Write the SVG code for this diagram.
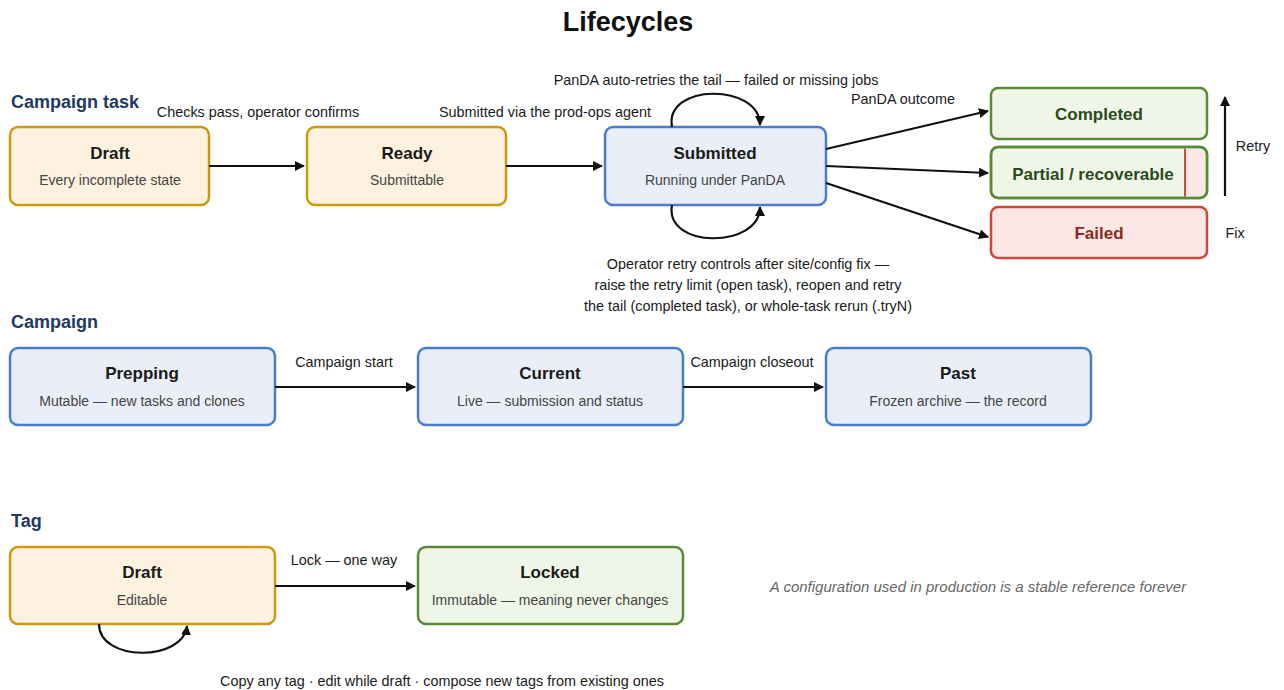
<svg xmlns="http://www.w3.org/2000/svg" width="1284" height="690" viewBox="0 0 1284 690">
  <defs>
    <marker id="arrow" viewBox="0 0 10 10" refX="9" refY="5" markerWidth="10" markerHeight="10" markerUnits="userSpaceOnUse" orient="auto">
      <path d="M0,0 L10,5 L0,10 z" fill="#111"/>
    </marker>
    <style>
      text { font-family: "Liberation Sans", Arial, Helvetica, sans-serif; }
      .title { font-size: 27px; font-weight: bold; fill: #111; text-anchor: middle; }
      .section { font-size: 18px; font-weight: bold; fill: #1d3a63; }
      .box { stroke-width: 2.5; }
      .amber { fill: #fdf1df; stroke: #cc9a0e; }
      .blue { fill: #e9eef9; stroke: #4a7cd0; }
      .green { fill: #eff6e8; stroke: #5a8a38; }
      .red { fill: #fbe7e5; stroke: #d0483a; }
      .name { font-size: 17px; font-weight: bold; fill: #1a1a1a; text-anchor: middle; }
      .sub { font-size: 14px; fill: #444; text-anchor: middle; }
      .gname { font-size: 17px; font-weight: bold; fill: #2b4a1c; text-anchor: middle; }
      .rname { font-size: 17px; font-weight: bold; fill: #8c2a1f; text-anchor: middle; }
      .edge { fill: none; stroke: #111; stroke-width: 2.2; }
      .lbl { font-size: 14.4px; fill: #1a1a1a; text-anchor: middle; }
      .note { font-size: 15px; fill: #666; font-style: italic; text-anchor: middle; }
    </style>
  </defs>

  <text class="title" x="628" y="31">Lifecycles</text>

  <!-- Campaign task lifecycle -->
  <text class="section" x="11" y="108">Campaign task</text>

  <g id="task-draft">
    <rect class="box amber" x="10" y="127" width="199" height="78" rx="8"/>
    <text class="name" x="110" y="159">Draft</text>
    <text class="sub" x="110" y="185">Every incomplete state</text>
  </g>
  <g id="task-ready">
    <rect class="box amber" x="307" y="127" width="199" height="78" rx="8"/>
    <text class="name" x="407" y="159">Ready</text>
    <text class="sub" x="407" y="185">Submittable</text>
  </g>
  <g id="task-submitted">
    <rect class="box blue" x="605" y="127" width="221" height="78" rx="8"/>
    <text class="name" x="715" y="159">Submitted</text>
    <text class="sub" x="715" y="185">Running under PanDA</text>
  </g>
  <g id="task-completed">
    <rect class="box green" x="991" y="88" width="216" height="51" rx="7"/>
    <text class="gname" x="1099" y="120">Completed</text>
  </g>
  <g id="task-partial">
    <rect class="box green" x="991" y="147" width="216" height="51" rx="7"/>
    <path d="M1185,148.5 H1199 a6.5,6.5 0 0 1 6.5,6.5 V190 a6.5,6.5 0 0 1 -6.5,6.5 H1185 z" fill="#fbe7e5"/>
    <line x1="1185" y1="148.5" x2="1185" y2="196.5" stroke="#d0483a" stroke-width="2"/>
    <rect x="991" y="147" width="216" height="51" rx="7" fill="none" stroke="#5a8a38" stroke-width="2.5"/>
    <text class="gname" x="1093" y="180">Partial / recoverable</text>
  </g>
  <g id="task-failed">
    <rect class="box red" x="991" y="207" width="216" height="51" rx="7"/>
    <text class="rname" x="1099" y="239">Failed</text>
  </g>

  <!-- Campaign lifecycle -->
  <text class="section" x="11" y="328">Campaign</text>

  <g id="campaign-prepping">
    <rect class="box blue" x="10" y="348" width="265" height="77" rx="8"/>
    <text class="name" x="142" y="379">Prepping</text>
    <text class="sub" x="142" y="406">Mutable — new tasks and clones</text>
  </g>
  <g id="campaign-current">
    <rect class="box blue" x="418" y="348" width="265" height="77" rx="8"/>
    <text class="name" x="550" y="379">Current</text>
    <text class="sub" x="550" y="406">Live — submission and status</text>
  </g>
  <g id="campaign-past">
    <rect class="box blue" x="826" y="348" width="265" height="77" rx="8"/>
    <text class="name" x="958" y="379">Past</text>
    <text class="sub" x="958" y="406">Frozen archive — the record</text>
  </g>

  <!-- Tag lifecycle -->
  <text class="section" x="11" y="527">Tag</text>

  <g id="tag-draft">
    <rect class="box amber" x="10" y="547" width="265" height="77" rx="8"/>
    <text class="name" x="142" y="578">Draft</text>
    <text class="sub" x="142" y="605">Editable</text>
  </g>
  <g id="tag-locked">
    <rect class="box green" x="418" y="547" width="265" height="77" rx="8"/>
    <text class="name" x="550" y="578">Locked</text>
    <text class="sub" x="550" y="605">Immutable — meaning never changes</text>
  </g>

  <text class="note" x="978" y="592">A configuration used in production is a stable reference forever</text>

  <!-- Connectors -->
  <g id="connectors">
    <path class="edge" d="M209,166 H304" marker-end="url(#arrow)"/>
    <text class="lbl" x="258" y="117">Checks pass, operator confirms</text>

    <path class="edge" d="M506,166 H602" marker-end="url(#arrow)"/>
    <text class="lbl" x="545" y="117">Submitted via the prod-ops agent</text>

    <path class="edge" d="M672,127 C664,83 760,83 760,125" marker-end="url(#arrow)"/>
    <text class="lbl" x="716" y="85">PanDA auto-retries the tail — failed or missing jobs</text>

    <path class="edge" d="M672,205 C664,249 760,249 760,207" marker-end="url(#arrow)"/>
    <text class="lbl" x="748" y="269">Operator retry controls after site/config fix —</text>
    <text class="lbl" x="748" y="290">raise the retry limit (open task), reopen and retry</text>
    <text class="lbl" x="748" y="311">the tail (completed task), or whole-task rerun (.tryN)</text>

    <path class="edge" d="M826,149 L988,111" marker-end="url(#arrow)"/>
    <path class="edge" d="M826,166 L988,173" marker-end="url(#arrow)"/>
    <path class="edge" d="M826,183 L988,237" marker-end="url(#arrow)"/>
    <text class="lbl" x="903" y="104">PanDA outcome</text>

    <path class="edge" d="M1225,196 V97" marker-end="url(#arrow)"/>
    <text class="lbl" x="1253" y="151">Retry</text>
    <text class="lbl" x="1235" y="238">Fix</text>

    <path class="edge" d="M275,387 H415" marker-end="url(#arrow)"/>
    <text class="lbl" x="344" y="367">Campaign start</text>

    <path class="edge" d="M683,387 H823" marker-end="url(#arrow)"/>
    <text class="lbl" x="752" y="367">Campaign closeout</text>

    <path class="edge" d="M275,586 H415" marker-end="url(#arrow)"/>
    <text class="lbl" x="344" y="565">Lock — one way</text>

    <path class="edge" d="M99,624 C99,662 183,662 187,626" marker-end="url(#arrow)"/>
    <text class="lbl" x="442" y="686">Copy any tag · edit while draft · compose new tags from existing ones</text>
  </g>
</svg>
